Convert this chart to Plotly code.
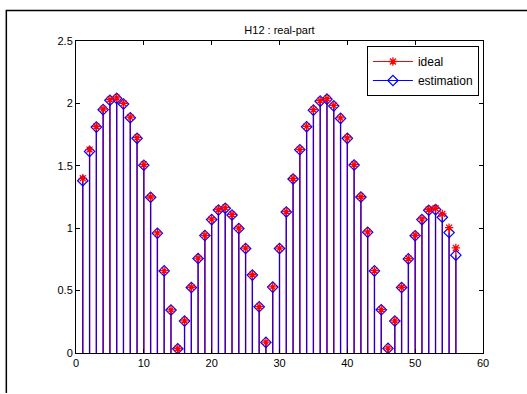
import plotly.graph_objects as go

n_index = list(range(1, 57))
ideal = [1.40, 1.63, 1.815, 1.955, 2.03, 2.045, 2.0, 1.89, 1.725, 1.51, 1.25, 0.962, 0.66, 0.346, 0.036,
         0.258, 0.527, 0.76, 0.943, 1.072, 1.15, 1.165, 1.11, 1.0, 0.84, 0.627, 0.372, 0.087, 0.53,
         0.84, 1.133, 1.398, 1.632, 1.816, 1.95, 2.022, 2.038, 1.984, 1.884, 1.723, 1.51, 1.252,
         0.97, 0.66, 0.348, 0.039, 0.258, 0.527, 0.757, 0.943, 1.074, 1.15, 1.16, 1.114, 1.005, 0.842]
estimation = [1.38, 1.615, 1.81, 1.95, 2.025, 2.04, 1.995, 1.885, 1.72, 1.505, 1.248, 0.96, 0.658, 0.344, 0.034,
              0.256, 0.525, 0.757, 0.941, 1.069, 1.146, 1.16, 1.106, 0.997, 0.837, 0.624, 0.37, 0.085, 0.528,
              0.837, 1.13, 1.394, 1.629, 1.813, 1.946, 2.018, 2.034, 1.98, 1.88, 1.72, 1.506, 1.25,
              0.968, 0.658, 0.346, 0.037, 0.256, 0.525, 0.754, 0.94, 1.069, 1.144, 1.149, 1.088, 0.965, 0.784]
x_ticks = [0, 10, 20, 30, 40, 50, 60]
y_ticks = [0, 0.5, 1, 1.5, 2, 2.5]
y_tick_labels = ["0", "0.5", "1", "1.5", "2", "2.5"]


def stems(xs, ys):
    sx, sy = [], []
    for x, y in zip(xs, ys):
        sx += [x, x, None]
        sy += [0, y, None]
    return sx, sy


fig = go.Figure()
ix, iy = stems(n_index, ideal)
ex, ey = stems(n_index, estimation)
fig.add_trace(go.Scatter(x=ix, y=iy, mode="lines", line=dict(color="#ff0000", width=1.4),
                         showlegend=False, hoverinfo="skip"))
fig.add_trace(go.Scatter(x=ex, y=ey, mode="lines", line=dict(color="#0000ff", width=1.1),
                         showlegend=False, hoverinfo="skip"))
fig.add_trace(go.Scatter(x=n_index, y=estimation, mode="markers",
                         marker=dict(symbol="diamond-open", size=8, color="#0000ff", line=dict(width=1.2)),
                         showlegend=False))
fig.add_trace(go.Scatter(x=n_index, y=ideal, mode="markers",
                         marker=dict(symbol="asterisk-open", size=7, color="#ff0000", line=dict(width=1.3, color="#ff0000")),
                         showlegend=False))
# legend entries
fig.add_trace(go.Scatter(x=[None], y=[None], mode="lines+markers", name="ideal",
                         line=dict(color="#ff0000", width=1),
                         marker=dict(symbol="asterisk-open", size=7, color="#ff0000", line=dict(width=1.3, color="#ff0000"))))
fig.add_trace(go.Scatter(x=[None], y=[None], mode="lines+markers", name="estimation",
                         line=dict(color="#0000ff", width=1),
                         marker=dict(symbol="diamond-open", size=8, color="#0000ff", line=dict(width=1.2))))

axis_common = dict(showline=True, linecolor="black", linewidth=1, mirror="ticks", ticks="inside",
                   ticklen=4, tickcolor="black", showgrid=False, zeroline=False,
                   tickfont=dict(family="Liberation Sans, Arial", size=11, color="black"))

px_x = lambda p: (p - 76) / 406
px_y = lambda p: (353 - p) / 312
frame_path = "M {:.5f},{:.5f} L {:.5f},{:.5f} L {:.5f},{:.5f}".format(
    px_x(6.5), px_y(393), px_x(6.5), px_y(10.5), px_x(526), px_y(10.5))

fig.update_layout(
    width=527, height=394,
    margin=dict(l=76, r=44, t=41, b=41),
    paper_bgcolor="white", plot_bgcolor="white",
    title=dict(text="H12 : real-part", x=0.5, xref="paper", xanchor="center", y=1 - 30 / 394, yanchor="middle",
               font=dict(family="Liberation Sans, Arial", size=11, color="black")),
    xaxis=dict(range=[0, 60], tickvals=x_ticks, **axis_common),
    yaxis=dict(range=[0, 2.5], tickvals=y_ticks, ticktext=y_tick_labels, **axis_common),
    legend=dict(x=0.99, xanchor="right", y=0.984, yanchor="top", bgcolor="white",
                bordercolor="black", borderwidth=1,
                font=dict(family="Liberation Sans, Arial", size=12, color="black"),
                tracegroupgap=0, itemwidth=40),
    showlegend=True,
    shapes=[dict(type="path", xref="paper", yref="paper", path=frame_path,
                 line=dict(color="black", width=1.5), fillcolor="rgba(0,0,0,0)", layer="below")],
)

fig.write_html("out.html", config={"displayModeBar": False},
               post_script="document.body.style.margin='0';document.body.style.overflow='hidden';")
